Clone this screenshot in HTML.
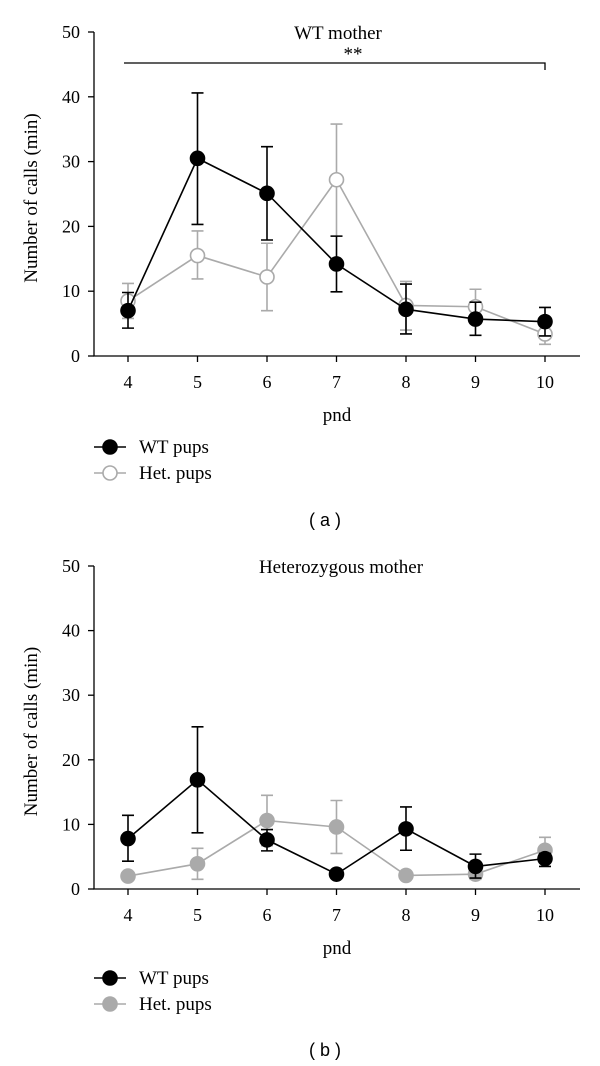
<!DOCTYPE html>
<html><head><meta charset="utf-8"><style>
body{margin:0;background:#fff;}
svg{display:block;font-family:"Liberation Serif",serif;}
</style></head><body>
<svg width="600" height="1066" viewBox="0 0 600 1066" id="fig"></svg>
<script>
const days=[4,5,6,7,8,9,10];
const yTicks=[0,10,20,30,40,50];
const aWT=[7,30.5,25.1,14.2,7.2,5.7,5.3];
const aWTlo=[4.3,20.3,17.9,9.9,3.4,3.2,3.1];
const aWThi=[9.8,40.6,32.3,18.5,11.1,8.3,7.5];
const aHet=[8.5,15.5,12.2,27.2,7.8,7.6,3.4];
const aHetlo=[5.8,11.9,7,18.5,4,5,1.8];
const aHethi=[11.2,19.3,17.4,35.8,11.5,10.3,5];
const bWT=[7.8,16.9,7.6,2.3,9.3,3.5,4.7];
const bWTlo=[4.3,8.7,5.9,2.3,6,1.7,3.5];
const bWThi=[11.4,25.1,9.2,2.3,12.7,5.4,5.5];
const bHet=[2,3.9,10.6,9.6,2.1,2.3,6];
const bHetlo=[2,1.5,6.7,5.5,2.1,1.5,4];
const bHethi=[2,6.3,14.5,13.7,2.1,3,8];
const NS='http://www.w3.org/2000/svg';
const svg=document.getElementById('fig');
function mk(t,a,p){const e=document.createElementNS(NS,t);for(const k in a)e.setAttribute(k,a[k]);(p||svg).appendChild(e);return e;}
function panel(id,top0,y50,title,titleX,wt,wtlo,wthi,het,hetlo,hethi,hetFilled,legY,lab,labY){
 const g=mk('g',{});
 
 
 const X=d=>128+(d-4)*69.5;
 const Y=v=>top0+(v/50)*(y50-top0);
 const ax=mk('path',{d:`M94 ${y50}V${top0}H580`,stroke:'#000','stroke-width':1.3,fill:'none'},g);
 
 
 yTicks.forEach(t=>{mk('line',{x1:88,x2:94,y1:Y(t),y2:Y(t),stroke:'#000','stroke-width':1.3},g);
  const tx=mk('text',{x:80,y:Y(t)+6,'text-anchor':'end','font-size':18},g);tx.textContent=t;
  
  });
 days.forEach(d=>{mk('line',{x1:X(d),x2:X(d),y1:top0,y2:top0+6,stroke:'#000','stroke-width':1.3},g);
  const tx=mk('text',{x:X(d),y:top0+32,'text-anchor':'middle','font-size':18},g);tx.textContent=d;
  
  });
 const yt=mk('text',{transform:`translate(37 ${(top0+y50)/2+4}) rotate(-90)`,'text-anchor':'middle','font-size':19},g);yt.textContent='Number of calls (min)';
 
 
 const xt=mk('text',{x:337,y:top0+65,'text-anchor':'middle','font-size':19},g);xt.textContent='pnd';
 
 
 const tt=mk('text',{x:titleX,y:y50+7,'text-anchor':'middle','font-size':19},g);tt.textContent=title;
 
 
 function series(name,v,lo,hi,col,fill){
  const sg=mk('g',{},g);
  
  
  days.forEach((d,i)=>{const x=X(d);
   mk('path',{d:`M${x} ${Y(lo[i])}V${Y(hi[i])}M${x-6} ${Y(lo[i])}h12M${x-6} ${Y(hi[i])}h12`,stroke:col,'stroke-width':1.6,fill:'none'},sg);});
  mk('polyline',{points:days.map((d,i)=>X(d)+','+Y(v[i])).join(' '),stroke:col,'stroke-width':1.6,fill:'none'},sg);
  days.forEach((d,i)=>{const c=mk('circle',{cx:X(d),cy:Y(v[i]),r:7,fill:fill,stroke:col,'stroke-width':1.6},sg);
   
   });
 }
 series('het-pups-series',het,hetlo,hethi,'#aaa',hetFilled?'#aaa':'#fff');
 series('wt-pups-series',wt,wtlo,wthi,'#000','#000');
 [['WT pups','#000','#000'],['Het. pups','#aaa',hetFilled?'#aaa':'#fff']].forEach((l,i)=>{
  const lg=mk('g',{},g);
  
  
  const y=legY+i*26;
  mk('line',{x1:94,x2:126,y1:y,y2:y,stroke:l[1],'stroke-width':1.6},lg);
  mk('circle',{cx:110,cy:y,r:7,fill:l[2],stroke:l[1],'stroke-width':1.6},lg);
  const t=mk('text',{x:139,y:y+6,'font-size':19},lg);t.textContent=l[0];});
 const pl=mk('text',{x:325,y:labY,'text-anchor':'middle','font-size':18,'font-family':'Liberation Sans, sans-serif'},g);pl.textContent='( '+lab+' )';
 
 
 return {X,Y,g};
}
const pa=panel('a',356,32,'WT mother',338,aWT,aWTlo,aWThi,aHet,aHetlo,aHethi,false,447,'a',526);
const sig=mk('path',{d:`M124 63H${pa.X(10)}v7`,stroke:'#000','stroke-width':1.3,fill:'none'},pa.g);


const st=mk('text',{x:353,y:60,'text-anchor':'middle','font-size':19},pa.g);st.textContent='**';


panel('b',889,566,'Heterozygous mother',341,bWT,bWTlo,bWThi,bHet,bHetlo,bHethi,true,978,'b',1056);
</script>
</body></html>
